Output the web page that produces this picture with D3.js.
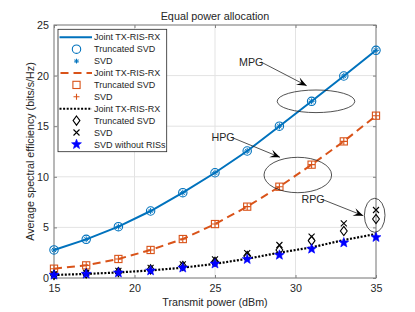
<!DOCTYPE html>
<html><head><meta charset="utf-8">
<script src="https://cdn.jsdelivr.net/npm/d3@7"></script>
<style>body{margin:0;background:#fff}svg{display:block}text{font-family:"Liberation Sans",Arial,Helvetica,sans-serif;fill:#262626}</style>
</head><body>
<script>
const power = [15,17,19,21,23,25,27,29,31,33,35];
const xTicks = [15,20,25,30,35];
const yTicks = [0,5,10,15,20,25];
const mpgJoint = [2.77,3.82,5.07,6.62,8.43,10.4,12.55,15.0,17.46,19.96,22.5];
const mpgTrunc = mpgJoint;
const mpgSvd = mpgJoint;
const hpgJoint = [0.92,1.25,1.88,2.77,3.85,5.33,7.05,9.02,11.2,13.5,16.04];
const hpgTrunc = hpgJoint;
const hpgSvd = hpgJoint;
const rpgJoint = [0.3,0.4,0.55,0.75,1.02,1.4,1.9,2.5,3.03,3.75,4.35];
const rpgTrunc = [0.3,0.45,0.6,0.85,1.19,1.6,2.17,2.77,3.69,4.64,5.83];
const rpgSvd = [0.35,0.5,0.7,1.0,1.35,1.85,2.45,3.26,4.08,5.4,6.72];
const noRis = [0.3,0.4,0.52,0.72,1.0,1.4,1.85,2.27,2.87,3.49,4.02];
const legendLabels = ["Joint TX-RIS-RX","Truncated SVD","SVD","Joint TX-RIS-RX","Truncated SVD","SVD","Joint TX-RIS-RX","Truncated SVD","SVD","SVD without RISs"];

const W=415,H=312;
const m={l:54,r:39,t:25,b:34};
const blue="#0072BD", orange="#D95319", star="#0000FF";
const svg=d3.select("body").append("svg").attr("width",W).attr("height",H);
const x=d3.scaleLinear().domain([15,35]).range([m.l,W-m.r]);
const y=d3.scaleLinear().domain([0,25]).range([H-m.b,m.t]);
const x0=x.range()[0],x1=x.range()[1],y0=y.range()[0],y1=y.range()[1];

// grid
const g=svg.append("g");
g.selectAll(".gx").data(xTicks).join("line").attr("x1",d=>x(d)).attr("x2",d=>x(d)).attr("y1",y0).attr("y2",y1).attr("stroke","#e3e3e3").attr("stroke-width",1);
g.selectAll(".gy").data(yTicks).join("line").attr("y1",d=>y(d)).attr("y2",d=>y(d)).attr("x1",x0).attr("x2",x1).attr("stroke","#e3e3e3").attr("stroke-width",1);

// axes
const axStyle=sel=>{sel.select(".domain").remove();sel.selectAll(".tick line").attr("stroke","#808080");sel.selectAll(".tick text").style("font-size","10.7px").attr("fill","#262626");};
svg.append("g").attr("transform",`translate(0,${y0})`).call(d3.axisBottom(x).tickValues(xTicks).tickSize(-3).tickPadding(6)).call(axStyle);
svg.append("g").attr("transform",`translate(0,${y1})`).call(d3.axisTop(x).tickValues(xTicks).tickSize(-3).tickFormat("")).call(axStyle);
svg.append("g").attr("transform",`translate(${x0},0)`).call(d3.axisLeft(y).tickValues(yTicks).tickSize(-3).tickPadding(5)).call(axStyle);
svg.append("g").attr("transform",`translate(${x1},0)`).call(d3.axisRight(y).tickValues(yTicks).tickSize(-3).tickFormat("")).call(axStyle);
svg.append("rect").attr("x",x0).attr("y",y1).attr("width",x1-x0).attr("height",y0-y1).attr("fill","none").attr("stroke","#808080").attr("stroke-width",1);

// lines
const line=vals=>d3.line().x((d,i)=>x(power[i])).y(d=>y(d))(vals);
svg.append("path").attr("d",line(mpgJoint)).attr("fill","none").attr("stroke",blue).attr("stroke-width",2);
svg.append("path").attr("d",line(hpgJoint)).attr("fill","none").attr("stroke",orange).attr("stroke-width",2).attr("stroke-dasharray","8,5");
svg.append("path").attr("d",line(rpgJoint)).attr("fill","none").attr("stroke","#000").attr("stroke-width",2.2).attr("stroke-dasharray","2,1.6");

// marker drawers
const mk={
 circle:(s,cx,cy,c)=>s.append("circle").attr("cx",cx).attr("cy",cy).attr("r",4.2).attr("fill","none").attr("stroke",c).attr("stroke-width",1.1),
 aster:(s,cx,cy,c,r=3)=>{let p="";for(let k=0;k<4;k++){const a=k*Math.PI/4;p+=`M${cx-r*Math.cos(a)},${cy-r*Math.sin(a)}L${cx+r*Math.cos(a)},${cy+r*Math.sin(a)}`;}s.append("path").attr("d",p).attr("stroke",c).attr("stroke-width",1).attr("fill","none");},
 square:(s,cx,cy,c)=>s.append("rect").attr("x",cx-3.6).attr("y",cy-3.6).attr("width",7.2).attr("height",7.2).attr("fill","none").attr("stroke",c).attr("stroke-width",1.1),
 plus:(s,cx,cy,c,r=3.4)=>s.append("path").attr("d",`M${cx-r},${cy}H${cx+r}M${cx},${cy-r}V${cy+r}`).attr("stroke",c).attr("stroke-width",1.1),
 diamond:(s,cx,cy,c)=>s.append("path").attr("d",`M${cx},${cy-4.6}L${cx+3.4},${cy}L${cx},${cy+4.6}L${cx-3.4},${cy}Z`).attr("fill","none").attr("stroke",c).attr("stroke-width",1.1),
 xm:(s,cx,cy,c)=>s.append("path").attr("d",`M${cx-3},${cy-3}L${cx+3},${cy+3}M${cx-3},${cy+3}L${cx+3},${cy-3}`).attr("stroke",c).attr("stroke-width",1.1),
 star:(s,cx,cy,c)=>{const pts=d3.range(10).map(k=>{const r=k%2?2.2:5.2;const a=-Math.PI/2+k*Math.PI/5;return [cx+r*Math.cos(a),cy+r*Math.sin(a)];});s.append("path").attr("d","M"+pts.join("L")+"Z").attr("fill",c).attr("stroke",c).attr("stroke-width",0.6);}
};
const ms=svg.append("g");
const draw=(vals,type,c)=>vals.forEach((v,i)=>mk[type](ms,x(power[i]),y(v),c));
draw(mpgTrunc,"circle",blue); draw(mpgSvd,"aster",blue);
draw(hpgTrunc,"square",orange); draw(hpgSvd,"plus",orange);
draw(rpgTrunc,"diamond","#000"); draw(rpgSvd,"xm","#000");
draw(noRis,"star",star);

// annotations
const ann=svg.append("g");
const ell=(cx,cy,rx,ry)=>ann.append("ellipse").attr("cx",cx).attr("cy",cy).attr("rx",rx).attr("ry",ry).attr("fill","none").attr("stroke","#262626").attr("stroke-width",0.8);
ell(316,101.3,38.8,11.3); ell(297.8,175,33.8,17.7); ell(374.7,215.3,10.3,17);
const arrow=(xa,ya,xb,yb)=>{ann.append("line").attr("x1",xa).attr("y1",ya).attr("x2",xb).attr("y2",yb).attr("stroke","#262626").attr("stroke-width",0.8);
 const a=Math.atan2(yb-ya,xb-xa),L=10,w=4;const bx=xb-L*Math.cos(a),by=yb-L*Math.sin(a);const ix=xb-0.6*L*Math.cos(a),iy=yb-0.6*L*Math.sin(a);
 ann.append("path").attr("d",`M${xb},${yb}L${bx-w*Math.sin(a)},${by+w*Math.cos(a)}L${ix},${iy}L${bx+w*Math.sin(a)},${by-w*Math.cos(a)}Z`).attr("fill","#000");};
arrow(261,62,306.7,85.7); arrow(232,137.5,280,157.3); arrow(322.5,199.5,363.3,215.7);
const lab=(t,xx,yy)=>ann.append("text").attr("x",xx).attr("y",yy).attr("dy","0.35em").style("font-size","10.7px").text(t);
lab("MPG",239,62); lab("HPG",211.5,137.5); lab("RPG",301.5,199.5);

// legend
const lg=svg.append("g");
lg.append("rect").attr("x",58).attr("y",29.3).attr("width",108.7).attr("height",122.4).attr("fill","#fff").attr("stroke","#262626").attr("stroke-width",0.8);
legendLabels.forEach((t,i)=>{
 const yy=37.3+i*11.9, cx=76.5;
 if(i===0) lg.append("line").attr("x1",59.5).attr("x2",92).attr("y1",yy).attr("y2",yy).attr("stroke",blue).attr("stroke-width",2);
 if(i===3) lg.append("line").attr("x1",59.5).attr("x2",92).attr("y1",yy).attr("y2",yy).attr("stroke",orange).attr("stroke-width",2).attr("stroke-dasharray","8,5").attr("stroke-dashoffset",-1);
 if(i===6) lg.append("line").attr("x1",59.5).attr("x2",92).attr("y1",yy).attr("y2",yy).attr("stroke","#000").attr("stroke-width",2).attr("stroke-dasharray","2,1.6");
 if(i===1) mk.circle(lg,cx,yy,blue);
 if(i===2) mk.aster(lg,cx,yy,blue,2.4);
 if(i===4) mk.square(lg,cx,yy,orange);
 if(i===5) mk.plus(lg,cx,yy,orange,3);
 if(i===7) mk.diamond(lg,cx,yy,"#000");
 if(i===8) mk.xm(lg,cx,yy,"#000");
 if(i===9) mk.star(lg,cx,yy,star);
 lg.append("text").attr("x",94).attr("y",yy).attr("dy","0.35em").style("font-size","9px").text(t);
});

// titles
svg.append("text").attr("x",(x0+x1)/2).attr("y",16).attr("dy","0.35em").attr("text-anchor","middle").style("font-size","10.8px").text("Equal power allocation");
svg.append("text").attr("x",(x0+x1)/2).attr("y",302).attr("dy","0.35em").attr("text-anchor","middle").style("font-size","10.7px").text("Transmit power (dBm)");
svg.append("text").attr("transform",`translate(30,${(y0+y1)/2}) rotate(-90)`).attr("dy","0.35em").attr("text-anchor","middle").style("font-size","10.7px").text("Average spectral efficiency (bits/s/Hz)");
</script>
</body></html>
